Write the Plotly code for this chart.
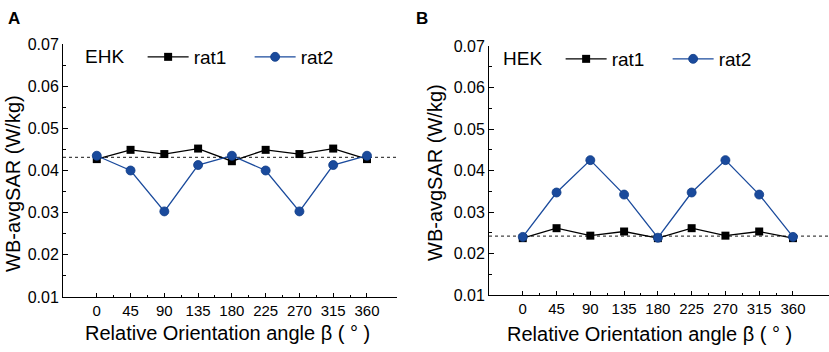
import plotly.graph_objects as go

angles = [0, 45, 90, 135, 180, 225, 270, 315, 360]
ehk_rat1 = [0.0427, 0.0449, 0.0439, 0.0452, 0.0422, 0.0449, 0.0439, 0.0452, 0.0427]
ehk_rat2 = [0.0435, 0.0400, 0.0303, 0.0413, 0.0435, 0.0400, 0.0303, 0.0413, 0.0435]
hek_rat1 = [0.0237, 0.0261, 0.0243, 0.0253, 0.0237, 0.0261, 0.0243, 0.0253, 0.0237]
hek_rat2 = [0.0240, 0.0347, 0.0425, 0.0342, 0.0238, 0.0347, 0.0425, 0.0342, 0.0240]
ehk_ref = 0.0431
hek_ref = 0.0242
x_ticks = [0, 45, 90, 135, 180, 225, 270, 315, 360]
y_ticks = [0.01, 0.02, 0.03, 0.04, 0.05, 0.06, 0.07]

W, H = 829, 352
ML, MR, MT = 63, 0, 44
MB = H - 297
PW, PH = W - ML - MR, H - MT - MB

def px(x):
    return (x - ML) / PW

def py(y):
    return (H - MB - y) / PH

FONT = "Arial, Liberation Sans, sans-serif"
BLUE = "#1a4a9c"

fig = go.Figure()

def add_panel(xa, ya, leg, r1, r2, ref):
    fig.add_trace(go.Scatter(x=angles, y=r1, name="rat1", mode="lines+markers",
                             line=dict(color="black", width=1.3),
                             marker=dict(symbol="square", size=8, color="black"),
                             xaxis=xa, yaxis=ya, legend=leg))
    fig.add_trace(go.Scatter(x=angles, y=r2, name="rat2", mode="lines+markers",
                             line=dict(color=BLUE, width=1.3),
                             marker=dict(symbol="circle", size=9, color=BLUE,
                                         line=dict(color="#0f3c88", width=0.8)),
                             xaxis=xa, yaxis=ya, legend=leg))
    fig.add_shape(type="line", xref=f"{xa} domain", yref=ya, x0=0, x1=1, y0=ref, y1=ref,
                  line=dict(color="#444", width=1.2, dash="dot"), layer="below")

add_panel("x", "y", "legend", ehk_rat1, ehk_rat2, ehk_ref)
add_panel("x2", "y2", "legend2", hek_rat1, hek_rat2, hek_ref)

xcommon = dict(tickvals=x_ticks, ticks="inside", ticklen=4, tickwidth=1, tickcolor="black",
               showline=True, linecolor="black", linewidth=1, showgrid=False, zeroline=False,
               automargin=False,
               tickfont=dict(family=FONT, size=15, color="black"),
               minor=dict(tickvals=[22.5 + 45 * i for i in range(8)], ticks="inside",
                          ticklen=2, tickcolor="black", showgrid=False))
ycommon = dict(tickvals=y_ticks, tickformat=".2f", ticks="inside", ticklen=5, tickwidth=1,
               tickcolor="black", showline=True, linecolor="black", linewidth=1,
               showgrid=False, zeroline=False, range=[0.01, 0.07], automargin=False,
               tickfont=dict(family=FONT, size=16, color="black"),
               minor=dict(dtick=0.005, tick0=0.005, ticks="inside", ticklen=3,
                          tickcolor="black", showgrid=False))

legcommon = dict(orientation="h", xanchor="left", yanchor="middle",
                 font=dict(size=19, family=FONT), bgcolor="rgba(0,0,0,0)",
                 itemwidth=41, entrywidth=51)

fig.update_layout(
    width=W, height=H,
    margin=dict(l=ML, r=MR, t=MT, b=MB, autoexpand=False),
    paper_bgcolor="white", plot_bgcolor="white",
    font=dict(family=FONT, color="black"),
    showlegend=True,
    xaxis=dict(domain=[0, px(397)], range=[-45, 400], anchor="y", **xcommon),
    yaxis=dict(domain=[0, 1], anchor="x", **ycommon),
    xaxis2=dict(domain=[px(489), 1], range=[-45, 408], anchor="y2", **xcommon),
    yaxis2=dict(domain=[py(295), py(46)], anchor="x2", **ycommon),
    legend=dict(x=px(83), y=py(57),
                title=dict(text="EHK&nbsp;&nbsp;", side="left", font=dict(size=19, family=FONT)),
                **legcommon),
    legend2=dict(x=px(501), y=py(59),
                 title=dict(text="HEK&nbsp;&nbsp;", side="left", font=dict(size=19, family=FONT)),
                 **legcommon),
)

ann = dict(xref="paper", yref="paper", showarrow=False, font=dict(family=FONT, size=20, color="black"))
fig.add_annotation(text="WB-avgSAR (W/kg)", x=px(13), y=py(184), textangle=-90,
                   xanchor="center", yanchor="middle", **ann)
fig.add_annotation(text="WB-avgSAR (W/kg)", x=px(435), y=py(173), textangle=-90,
                   xanchor="center", yanchor="middle", **ann)
fig.add_annotation(text="Relative Orientation angle β ( ° )", x=px(227), y=py(333),
                   xanchor="center", yanchor="middle", **ann)
fig.add_annotation(text="Relative Orientation angle β ( ° )", x=px(649), y=py(334),
                   xanchor="center", yanchor="middle", **ann)
lab = dict(xref="paper", yref="paper", showarrow=False,
           font=dict(family=FONT, size=17, color="black", weight="bold"))
fig.add_annotation(text="A", x=px(6), y=py(19), xanchor="left", yanchor="middle", **lab)
fig.add_annotation(text="B", x=px(414), y=py(19), xanchor="left", yanchor="middle", **lab)

fig.write_html("out.html", config={"displayModeBar": False},
               post_script="document.body.style.margin='0';document.body.style.overflow='hidden';")
